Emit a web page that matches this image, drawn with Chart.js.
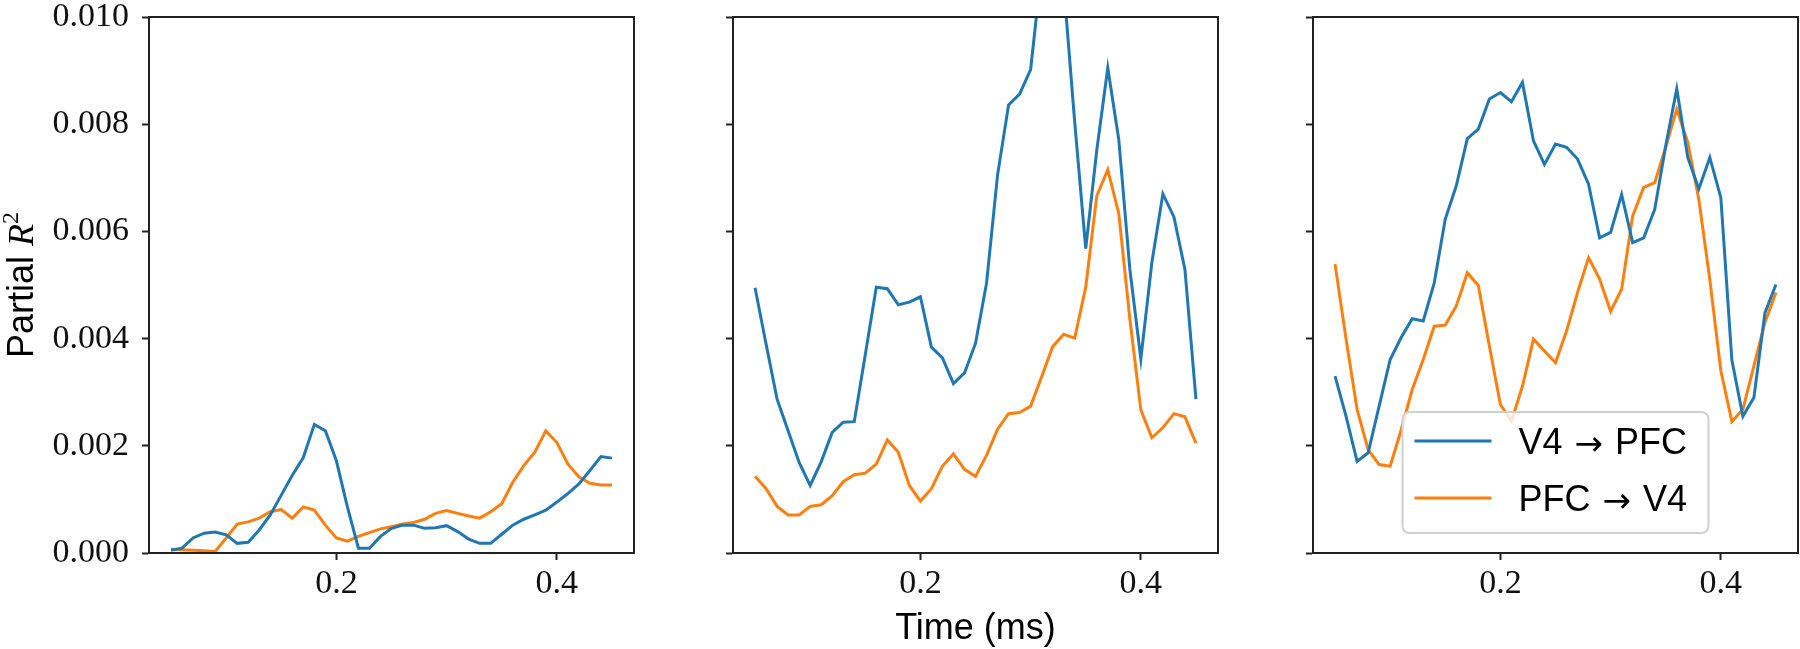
<!DOCTYPE html>
<html>
<head>
<meta charset="utf-8">
<title>Partial R2 over time</title>
<script src="https://cdn.jsdelivr.net/npm/chart.js@4.4.0/dist/chart.umd.min.js"></script>
<style>
    html, body { margin: 0; padding: 0; background: #fff; }
    #figure { position: relative; width: 1800px; height: 649px; overflow: hidden; }
    .panel { position: absolute; top: 0; height: 649px; }
</style>
</head>
<body>
<div id="figure">
    <div class="panel" style="left:0px;width:640px"><canvas id="panel1" width="640" height="649"></canvas></div>
    <div class="panel" style="left:650px;width:575px"><canvas id="panel2" width="575" height="649"></canvas></div>
    <div class="panel" style="left:1230px;width:570px"><canvas id="panel3" width="570" height="649"></canvas></div>
</div>
<script>
// Data (time in ms, partial R^2)
const timeMs = [0.05, 0.06, 0.07, 0.08, 0.09, 0.10, 0.11, 0.12, 0.13, 0.14,
    0.15, 0.16, 0.17, 0.18, 0.19, 0.20, 0.21, 0.22, 0.23, 0.24,
    0.25, 0.26, 0.27, 0.28, 0.29, 0.30, 0.31, 0.32, 0.33, 0.34,
    0.35, 0.36, 0.37, 0.38, 0.39, 0.40, 0.41, 0.42, 0.43, 0.44, 0.45];

const seriesNames = ['V4 \u2192 PFC', 'PFC \u2192 V4'];
const xTickValues = [0.2, 0.4];
const yTickValues = [0, 0.002, 0.004, 0.006, 0.008, 0.010];

// panel 1
const p1V4toPFC = [0.00005, 0.00009, 0.00028, 0.00037, 0.00039, 0.00034, 0.00018, 0.00020, 0.00043, 0.00071,
    0.00108, 0.00145, 0.00178, 0.00240, 0.00228, 0.00172, 0.00086, 0.00009, 0.00009, 0.00031,
    0.00046, 0.00052, 0.00052, 0.00046, 0.00047, 0.00051, 0.00040, 0.00026, 0.00018, 0.00018,
    0.00035, 0.00052, 0.00063, 0.00071, 0.00080, 0.00095, 0.00111, 0.00129, 0.00154, 0.00180, 0.00177];
const p1PFCtoV4 = [0.00007, 0.00006, 0.00005, 0.00004, 0.00003, 0.00028, 0.00054, 0.00058, 0.00065, 0.00077,
    0.00081, 0.00065, 0.00086, 0.00080, 0.00052, 0.00028, 0.00022, 0.00031, 0.00038, 0.00045,
    0.00049, 0.00054, 0.00057, 0.00063, 0.00074, 0.00079, 0.00074, 0.00069, 0.00065, 0.00077,
    0.00092, 0.00132, 0.00163, 0.00188, 0.00228, 0.00206, 0.00166, 0.00142, 0.00130, 0.00127, 0.00127];

// panel 2
const p2V4toPFC = [0.00495, 0.00390, 0.00287, 0.00228, 0.00169, 0.00126, 0.00170, 0.00225, 0.00244, 0.00245,
    0.00370, 0.00496, 0.00493, 0.00463, 0.00468, 0.00478, 0.00384, 0.00364, 0.00316, 0.00336,
    0.00391, 0.00503, 0.00705, 0.00836, 0.00856, 0.00902, 0.01090, 0.01160, 0.01060, 0.00804,
    0.00568, 0.00751, 0.00905, 0.00771, 0.00530, 0.00362, 0.00542, 0.00670, 0.00627, 0.00529, 0.00287];
const p2PFCtoV4 = [0.00143, 0.00120, 0.00087, 0.00071, 0.00071, 0.00087, 0.00090, 0.00107, 0.00133, 0.00146,
    0.00149, 0.00166, 0.00211, 0.00188, 0.00126, 0.00097, 0.00120, 0.00162, 0.00185, 0.00156,
    0.00143, 0.00182, 0.00231, 0.00260, 0.00262, 0.00274, 0.00329, 0.00385, 0.00408, 0.00401,
    0.00496, 0.00666, 0.00715, 0.00633, 0.00437, 0.00267, 0.00215, 0.00234, 0.00260, 0.00254, 0.00205];

// panel 3
const p3V4toPFC = [0.00330, 0.00255, 0.00171, 0.00187, 0.00274, 0.00361, 0.00402, 0.00437, 0.00433, 0.00504,
    0.00623, 0.00685, 0.00773, 0.00791, 0.00847, 0.00859, 0.00842, 0.00878, 0.00769, 0.00725,
    0.00763, 0.00757, 0.00735, 0.00688, 0.00588, 0.00598, 0.00669, 0.00579, 0.00588, 0.00641,
    0.00760, 0.00866, 0.00738, 0.00679, 0.00738, 0.00663, 0.00360, 0.00255, 0.00290, 0.00448, 0.00501];
const p3PFCtoV4 = [0.00539, 0.00399, 0.00268, 0.00193, 0.00165, 0.00162, 0.00230, 0.00305, 0.00361, 0.00423,
    0.00425, 0.00461, 0.00523, 0.00499, 0.00386, 0.00277, 0.00246, 0.00311, 0.00399, 0.00377,
    0.00355, 0.00414, 0.00486, 0.00551, 0.00511, 0.00451, 0.00492, 0.00629, 0.00682, 0.00691,
    0.00757, 0.00828, 0.00766, 0.00660, 0.00510, 0.00340, 0.00245, 0.00268, 0.00349, 0.00430, 0.00486];

// Style
const BLUE = '#1f77b4';
const ORANGE = '#ff7f0e';
const AXIS_COLOR = '#222222';
const SANS = '"Liberation Sans", Arial, sans-serif';
const SERIF = '"Liberation Serif", "DejaVu Serif", serif';
const ARROW_FONT = '"DejaVu Sans", sans-serif';

Chart.defaults.font.family = SANS;
Chart.defaults.color = '#000';

function toPoints(values) {
    return timeMs.map((t, i) => ({ x: t, y: values[i] }));
}

// box around each axes (matplotlib spines)
const frameBox = {
    id: 'frameBox',
    afterDatasetsDraw(chart) {
        const { ctx, chartArea: a } = chart;
        ctx.save();
        ctx.strokeStyle = AXIS_COLOR;
        ctx.lineWidth = 2;
        ctx.strokeRect(a.left, a.top, a.right - a.left, a.bottom - a.top);
        ctx.restore();
    }
};

// rotated y label: "Partial R^2"
const yTitle = {
    id: 'yTitle',
    afterDraw(chart) {
        const { ctx, chartArea: a } = chart;
        const parts = [
            { text: 'Partial ', font: '36px ' + SANS, dy: 0 },
            { text: 'R', font: 'italic 36px ' + SERIF, dy: 0 },
            { text: '2', font: '24px ' + SERIF, dy: -15 }
        ];
        let total = 0;
        parts.forEach(p => { ctx.font = p.font; p.w = ctx.measureText(p.text).width; total += p.w; });
        ctx.save();
        ctx.translate(33, (a.top + a.bottom) / 2);
        ctx.rotate(-Math.PI / 2);
        ctx.fillStyle = '#000';
        ctx.textBaseline = 'alphabetic';
        ctx.textAlign = 'left';
        let x = -total / 2;
        parts.forEach(p => {
            ctx.font = p.font;
            ctx.fillText(p.text, x, p.dy);
            x += p.w;
        });
        ctx.restore();
    }
};

// draws "A → B" with a wider math-like arrow
function drawArrowLabel(ctx, label, x, baseline) {
    const [left, right] = label.split(' \u2192 ');
    const gap = 12;
    ctx.textBaseline = 'alphabetic';
    ctx.textAlign = 'left';
    ctx.font = '36px ' + SANS;
    ctx.fillText(left, x, baseline);
    x += ctx.measureText(left).width + gap;
    ctx.font = '34px ' + ARROW_FONT;
    ctx.fillText('\u2192', x, baseline + 1);
    x += ctx.measureText('\u2192').width + gap;
    ctx.font = '36px ' + SANS;
    ctx.fillText(right, x, baseline);
}

// legend box, lower center of the last panel
const legendBox = {
    id: 'legendBox',
    afterDatasetsDraw(chart) {
        const { ctx, chartArea: a } = chart;
        const w = 306, h = 121;
        const x = (a.left + a.right) / 2 - w / 2;
        const y = a.bottom - 20 - h;
        ctx.save();
        ctx.beginPath();
        ctx.roundRect(x, y, w, h, 7);
        ctx.fillStyle = 'rgba(255,255,255,0.8)';
        ctx.fill();
        ctx.strokeStyle = '#d0d0d0';
        ctx.lineWidth = 2;
        ctx.stroke();
        chart.data.datasets.forEach((ds, i) => {
            const cy = y + 29 + i * 57;
            ctx.beginPath();
            ctx.moveTo(x + 12, cy);
            ctx.lineTo(x + 89, cy);
            ctx.strokeStyle = ds.borderColor;
            ctx.lineWidth = 3;
            ctx.stroke();
            ctx.fillStyle = '#000';
            drawArrowLabel(ctx, ds.label, x + 116, cy + 13);
        });
        ctx.restore();
    }
};

function makePanel(canvasId, blueValues, orangeValues, opt) {
    const ctx = document.getElementById(canvasId).getContext('2d');
    const plugins = [frameBox];
    if (opt.yLabel) plugins.push(yTitle);
    if (opt.legend) plugins.push(legendBox);

    return new Chart(ctx, {
        type: 'line',
        data: {
            datasets: [{
                label: seriesNames[0],
                data: toPoints(blueValues),
                borderColor: BLUE,
                borderWidth: 3,
                pointRadius: 0,
                tension: 0,
                clip: 0
            }, {
                label: seriesNames[1],
                data: toPoints(orangeValues),
                borderColor: ORANGE,
                borderWidth: 3,
                pointRadius: 0,
                tension: 0,
                clip: 0
            }]
        },
        options: {
            responsive: false,
            animation: false,
            events: [],
            layout: { padding: { left: 0, right: opt.padRight, top: 17, bottom: 0 } },
            plugins: {
                legend: { display: false },
                tooltip: { enabled: false }
            },
            scales: {
                x: {
                    type: 'linear',
                    min: 0.03,
                    max: 0.47,
                    afterBuildTicks: s => { s.ticks = xTickValues.map(v => ({ value: v })); },
                    afterFit: s => { s.height = 96; s.paddingLeft = 0; s.paddingRight = 0; },
                    ticks: {
                        font: { family: SERIF, size: 34 },
                        color: '#111',
                        padding: 4,
                        maxRotation: 0,
                        autoSkip: false,
                        callback: v => v.toFixed(1)
                    },
                    grid: { drawOnChartArea: false, drawTicks: true, tickLength: 7, tickWidth: 2, tickColor: AXIS_COLOR },
                    border: { display: true, color: AXIS_COLOR, width: 2 },
                    title: {
                        display: !!opt.xLabel,
                        text: 'Time (ms)',
                        font: { family: SANS, size: 36 },
                        color: '#000',
                        padding: { top: 0, bottom: -2 }
                    }
                },
                y: {
                    min: 0,
                    max: 0.010,
                    afterBuildTicks: s => { s.ticks = yTickValues.map(v => ({ value: v })); },
                    afterFit: s => { s.width = opt.yWidth; s.paddingTop = 0; s.paddingBottom = 0; },
                    ticks: {
                        display: !!opt.yTicks,
                        font: { family: SERIF, size: 34 },
                        color: '#111',
                        padding: 13,
                        callback: v => v.toFixed(3)
                    },
                    grid: { drawOnChartArea: false, drawTicks: true, tickLength: 7, tickWidth: 2, tickColor: AXIS_COLOR },
                    border: { display: true, color: AXIS_COLOR, width: 2 }
                }
            }
        },
        plugins: plugins
    });
}

// Initialize everything when the DOM is loaded
document.addEventListener('DOMContentLoaded', () => {
    makePanel('panel1', p1V4toPFC, p1PFCtoV4, { yWidth: 149, padRight: 6, yTicks: true, yLabel: true });
    makePanel('panel2', p2V4toPFC, p2PFCtoV4, { yWidth: 83, padRight: 7, xLabel: true });
    makePanel('panel3', p3V4toPFC, p3PFCtoV4, { yWidth: 83, padRight: 2, legend: true });
});
</script>
</body>
</html>
